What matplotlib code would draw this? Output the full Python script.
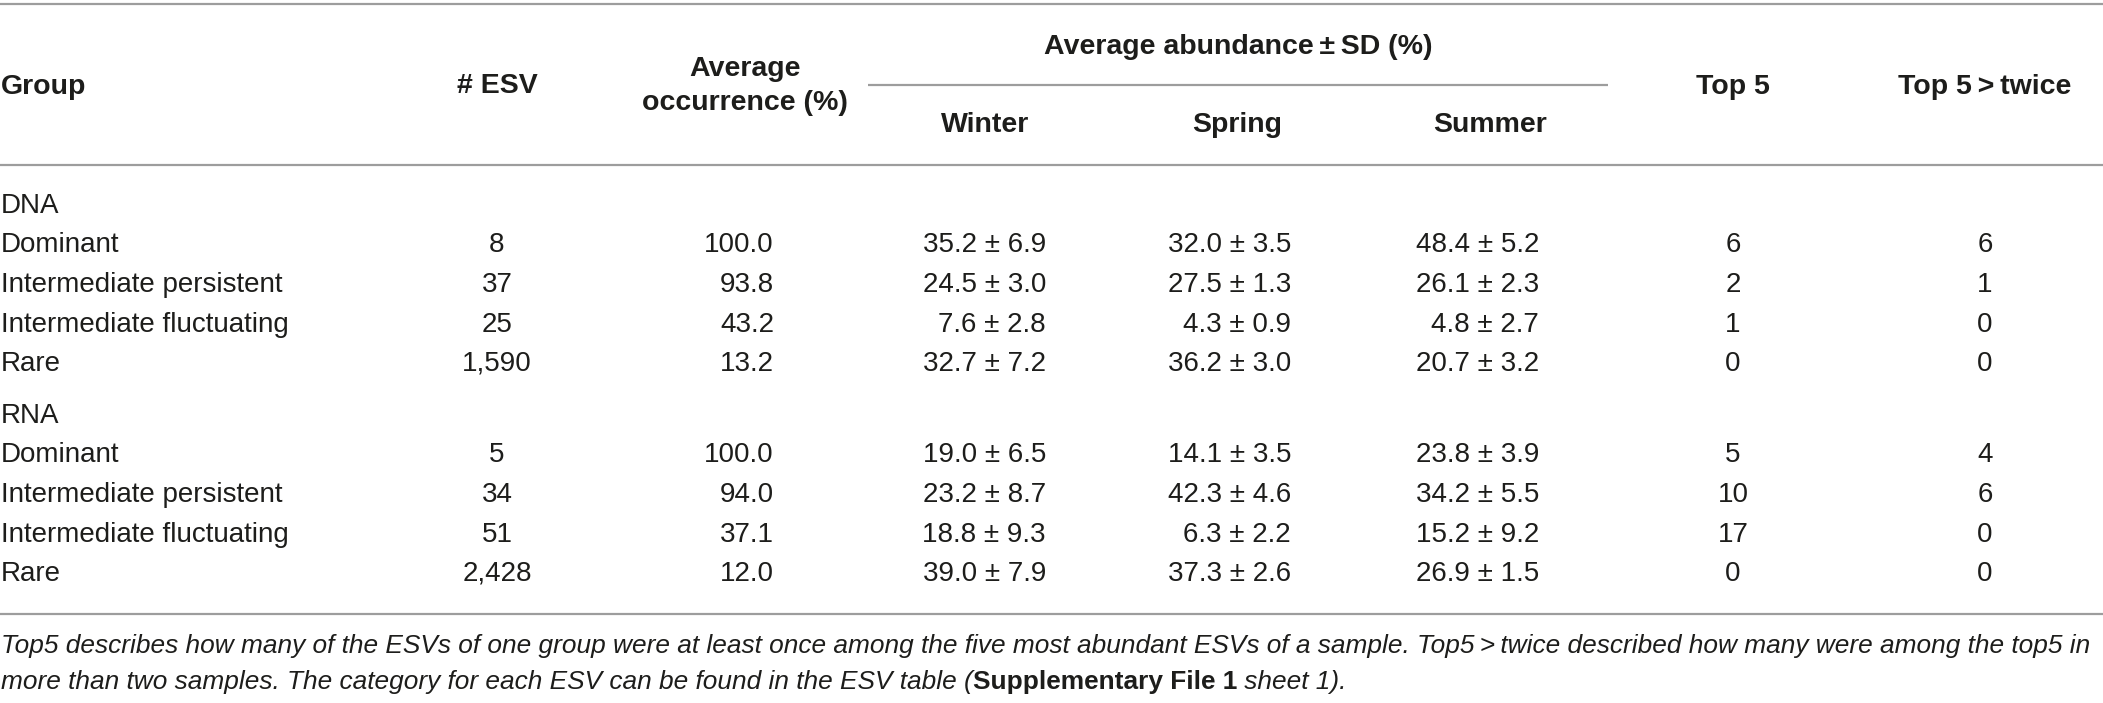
import matplotlib
matplotlib.use('Agg')
import matplotlib.pyplot as plt

# table data
sections = ['DNA', 'RNA']
groups = ['Dominant', 'Intermediate persistent', 'Intermediate fluctuating', 'Rare']
n_esv = [[8, 37, 25, 1590], [5, 34, 51, 2428]]
occurrence = [[100.0, 93.8, 43.2, 13.2], [100.0, 94.0, 37.1, 12.0]]
winter_mean = [[35.2, 24.5, 7.6, 32.7], [19.0, 23.2, 18.8, 39.0]]
winter_sd = [[6.9, 3.0, 2.8, 7.2], [6.5, 8.7, 9.3, 7.9]]
spring_mean = [[32.0, 27.5, 4.3, 36.2], [14.1, 42.3, 6.3, 37.3]]
spring_sd = [[3.5, 1.3, 0.9, 3.0], [3.5, 4.6, 2.2, 2.6]]
summer_mean = [[48.4, 26.1, 4.8, 20.7], [23.8, 34.2, 15.2, 26.9]]
summer_sd = [[5.2, 2.3, 2.7, 3.2], [3.9, 5.5, 9.2, 1.5]]
top5 = [[6, 2, 1, 0], [5, 10, 17, 0]]
top5_twice = [[6, 1, 0, 0], [4, 6, 0, 0]]

col_headers = ['Group', '# ESV', 'Average\noccurrence (%)', 'Top 5', 'Top 5\u2009>\u2009twice']
season_headers = ['Winter', 'Spring', 'Summer']
span_header = 'Average abundance\u2009±\u2009SD (%)'

note_1 = ('Top5 describes how many of the ESVs of one group were at least once among the five most '
          'abundant ESVs of a sample. Top5\u2009>\u2009twice described how many were among the top5 in')
note_2a = 'more than two samples. The category for each ESV can be found in the ESV table ('
note_2b = 'Supplementary File 1'
note_2c = ' sheet 1).'

W, H = 2103, 703
FONT = ['Liberation Sans', 'DejaVu Sans']
TXT = '#1d1d1b'
LINE = '#9d9d9d'

plt.rcParams['font.family'] = FONT
fig = plt.figure(figsize=(W / 100, H / 100), dpi=100)
ax = fig.add_axes([0, 0, 1, 1])
ax.set_xlim(0, W)
ax.set_ylim(H, 0)
ax.axis('off')

body = 20
head = 20.5

# rules
for y in (4, 165, 614):
    ax.plot([0, W], [y, y], color=LINE, lw=1.6, solid_capstyle='butt')
ax.plot([868, 1608], [85, 85], color=LINE, lw=1.6, solid_capstyle='butt')

# header
hkw = dict(fontsize=head, fontweight='bold', color=TXT, va='center')
ax.text(1, 87, col_headers[0], ha='left', **hkw)
ax.text(497, 86, col_headers[1], ha='center', **hkw)
ax.text(745, 86, col_headers[2], ha='center', linespacing=1.45, **hkw)
ax.text(1238, 47, span_header, ha='center', **hkw)
for x, s in zip([985, 1237, 1490], season_headers):
    ax.text(x, 125, s, ha='center', **hkw)
ax.text(1733, 87, col_headers[3], ha='center', **hkw)
ax.text(1985, 87, col_headers[4], ha='center', **hkw)

# body
bkw = dict(fontsize=body, color=TXT, va='center')
section_y = [206, 416]
row_step = 39.5
for s, sec in enumerate(sections):
    y0 = section_y[s]
    ax.text(1, y0, sec, ha='left', **bkw)
    for i, g in enumerate(groups):
        y = y0 + row_step * (i + 1)
        ax.text(1, y, g, ha='left', **bkw)
        ax.text(497, y, f'{n_esv[s][i]:,}', ha='center', **bkw)
        ax.text(774, y, f'{occurrence[s][i]:.1f}', ha='right', **bkw)
        ax.text(1046, y, f'{winter_mean[s][i]:.1f} ± {winter_sd[s][i]:.1f}', ha='right', **bkw)
        ax.text(1291, y, f'{spring_mean[s][i]:.1f} ± {spring_sd[s][i]:.1f}', ha='right', **bkw)
        ax.text(1539, y, f'{summer_mean[s][i]:.1f} ± {summer_sd[s][i]:.1f}', ha='right', **bkw)
        ax.text(1733, y, str(top5[s][i]), ha='center', **bkw)
        ax.text(1985, y, str(top5_twice[s][i]), ha='center', **bkw)

# footnote, sized to span the full width
renderer = fig.canvas.get_renderer()
nkw = dict(color=TXT, va='center', style='italic')
t1 = ax.text(1, 646, note_1, ha='left', fontsize=18, **nkw)
w1 = t1.get_window_extent(renderer).width
note_size = 18 * 2094 / w1
t1.set_fontsize(note_size)

ta = ax.text(1, 682, note_2a, ha='left', fontsize=note_size, **nkw)
xa = ta.get_window_extent(renderer).x1
tb = ax.text(xa, 682, note_2b, ha='left', fontsize=note_size, color=TXT, va='center',
             fontweight='bold')
xb = tb.get_window_extent(renderer).x1
ax.text(xb, 682, note_2c, ha='left', fontsize=note_size, **nkw)

fig.savefig('out.png', dpi=100, facecolor='white')
